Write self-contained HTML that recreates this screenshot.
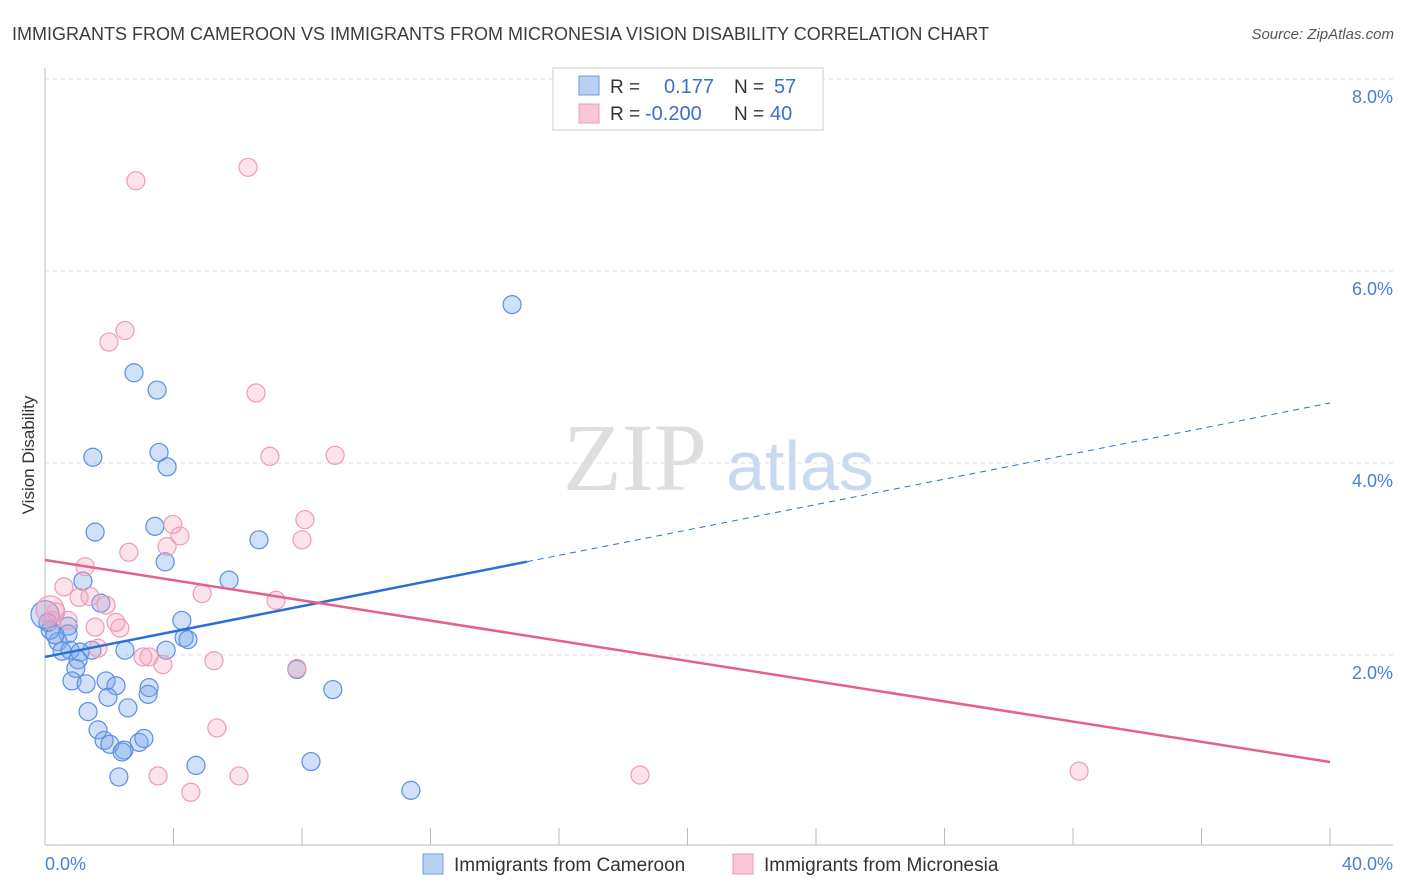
<!DOCTYPE html>
<html><head><meta charset="utf-8">
<style>
body{margin:0;background:#fff;font-family:"Liberation Sans",sans-serif;}
svg{display:block}
</style></head>
<body>
<svg width="1406" height="892" viewBox="0 0 1406 892" xmlns="http://www.w3.org/2000/svg">
<text x="12" y="40" font-size="18" fill="#3c3c3c">IMMIGRANTS FROM CAMEROON VS IMMIGRANTS FROM MICRONESIA VISION DISABILITY CORRELATION CHART</text>
<text x="1394" y="39" font-size="15" fill="#555" font-style="italic" text-anchor="end">Source: ZipAtlas.com</text>
<g>
<text x="635" y="490" font-size="96" font-family="Liberation Serif,serif" fill="#dedede" text-anchor="middle">ZIP</text>
<text x="800" y="490" font-size="70" fill="#c9d9f0" text-anchor="middle">atlas</text>
</g>
<g id="grid"></g>
<g id="axes"></g>
<g id="marks"></g>
<g>
<rect x="553" y="68" width="270" height="62" fill="#fff" stroke="#ccc"/>
<rect x="579" y="76" width="20" height="19" fill="#b8d1f3" stroke="#6e9be0"/>
<rect x="579" y="104" width="20" height="19" fill="#f8c6d6" stroke="#e89ab5"/>
<text x="610" y="93" font-size="19" fill="#333">R =</text>
<text x="664" y="93" font-size="20" fill="#3a6fd0">0.177</text>
<text x="734" y="93" font-size="19" fill="#333">N =</text>
<text x="774" y="93" font-size="20" fill="#3a6fd0">57</text>
<text x="610" y="120" font-size="19" fill="#333">R =</text>
<text x="645" y="120" font-size="20" fill="#3a6fd0">-0.200</text>
<text x="734" y="120" font-size="19" fill="#333">N =</text>
<text x="770" y="120" font-size="20" fill="#3a6fd0">40</text>
</g>
<text transform="translate(34,455) rotate(-90)" font-size="17" fill="#333" text-anchor="middle">Vision Disability</text>
<g>
<rect x="423" y="854" width="20" height="20" fill="#b8d1f3" stroke="#6e9be0"/>
<text x="454" y="871" font-size="19" fill="#333">Immigrants from Cameroon</text>
<rect x="733" y="854" width="20" height="20" fill="#f8c6d6" stroke="#e89ab5"/>
<text x="764" y="871" font-size="19" fill="#333">Immigrants from Micronesia</text>
</g>
</svg>
<script>
const blueX=[14.54,2.77,3.49,1.49,3.55,3.80,1.56,3.42,6.66,3.74,1.18,5.73,1.74,4.26,0.72,4.33,4.45,0.72,0.40,0.16,0.31,0.53,0.78,1.46,1.09,2.49,3.77,1.03,0.96,7.84,0.84,1.28,1.90,2.21,3.24,1.96,3.21,8.96,2.58,1.34,1.65,1.84,2.02,2.46,2.40,2.93,3.08,4.70,8.28,2.30,11.39,0.09,0.0];
const blueY=[5.65,4.94,4.76,4.06,4.11,3.96,3.28,3.34,3.20,2.97,2.77,2.78,2.54,2.36,2.30,2.18,2.16,2.22,2.14,2.26,2.21,2.04,2.05,2.05,2.03,2.05,2.05,1.95,1.86,1.85,1.73,1.70,1.73,1.68,1.66,1.56,1.59,1.64,1.45,1.41,1.22,1.11,1.07,1.01,0.99,1.09,1.13,0.85,0.89,0.73,0.59,2.34,2.42];
const pinkX=[6.32,2.83,2.49,1.99,6.57,7.00,9.03,3.98,8.09,4.20,3.80,8.00,2.61,1.25,0.59,1.40,1.06,1.90,4.89,7.19,2.21,1.56,2.33,0.72,0.34,0.22,1.65,3.05,3.24,3.67,5.26,7.84,5.35,3.52,6.04,4.54,18.52,32.19,0.16];
const pinkY=[7.08,6.94,5.38,5.26,4.73,4.07,4.08,3.36,3.41,3.24,3.13,3.20,3.07,2.92,2.71,2.61,2.60,2.52,2.64,2.57,2.34,2.29,2.28,2.36,2.45,2.36,2.07,1.98,1.98,1.90,1.94,1.86,1.24,0.74,0.74,0.57,0.75,0.79,2.47];
const yTicks=[2,4,6,8];
const yTickLabels=["2.0%","4.0%","6.0%","8.0%"];
const blueTrend=[1.98,4.625];
const pinkTrend=[2.99,0.885];
const blueSolidEnd=15.0;

const NS="http://www.w3.org/2000/svg";
const sx=v=>45+v*32.125;
const sy=v=>847-v*96;
function mk(tag,attrs,parent){const e=document.createElementNS(NS,tag);for(const k in attrs)e.setAttribute(k,attrs[k]);document.getElementById(parent).appendChild(e);return e;}
yTicks.forEach((t,i)=>{
 const l=mk('line',{x1:45,x2:1393,y1:sy(t),y2:sy(t),stroke:'#ddd','stroke-dasharray':'4,4'},'grid');
 
 
 const tx=mk('text',{x:1393,y:sy(t)+24,'font-size':18,fill:'#4a7fd4','text-anchor':'end'},'grid');
 tx.textContent=yTickLabels[i];
 
 
});
let ax=mk('line',{x1:45,x2:45,y1:68,y2:845,stroke:'#bbb'},'axes');


ax=mk('line',{x1:45,x2:1393,y1:845,y2:845,stroke:'#bbb'},'axes');


for(let i=0;i<=10;i++){
 const t=mk('line',{x1:sx(i*4),x2:sx(i*4),y1:828,y2:845,stroke:'#bbb'},'axes');
 
 
}
let xl=mk('text',{x:45,y:870,'font-size':18,fill:'#4a7fd4'},'axes');xl.textContent='0.0%';


xl=mk('text',{x:1393,y:870,'font-size':18,fill:'#4a7fd4','text-anchor':'end'},'axes');xl.textContent='40.0%';



blueX.forEach((x,i)=>{
 const c=mk('circle',{cx:sx(x),cy:sy(blueY[i]),r:i===blueX.length-1?14:9,fill:'rgba(120,165,235,0.35)',stroke:'#5b8fdf','stroke-width':1.2},'marks');
 
 
});
pinkX.forEach((x,i)=>{
 const c=mk('circle',{cx:sx(x),cy:sy(pinkY[i]),r:i===pinkX.length-1?14:9,fill:'rgba(245,160,190,0.3)',stroke:'#eb9cb8','stroke-width':1.2},'marks');
 
 
});
const bAt=x=>blueTrend[0]+(blueTrend[1]-blueTrend[0])*x/40;
let tl=mk('line',{x1:sx(0),y1:sy(blueTrend[0]),x2:sx(blueSolidEnd),y2:sy(bAt(blueSolidEnd)),stroke:'#2a6fd6','stroke-width':2.5},'marks');


tl=mk('line',{x1:sx(blueSolidEnd),y1:sy(bAt(blueSolidEnd)),x2:sx(40),y2:sy(blueTrend[1]),stroke:'#2a6fd6','stroke-width':1,'stroke-dasharray':'6,5'},'marks');


tl=mk('line',{x1:sx(0),y1:sy(pinkTrend[0]),x2:sx(40),y2:sy(pinkTrend[1]),stroke:'#e5608f','stroke-width':2.5},'marks');


</script>
</body></html>
